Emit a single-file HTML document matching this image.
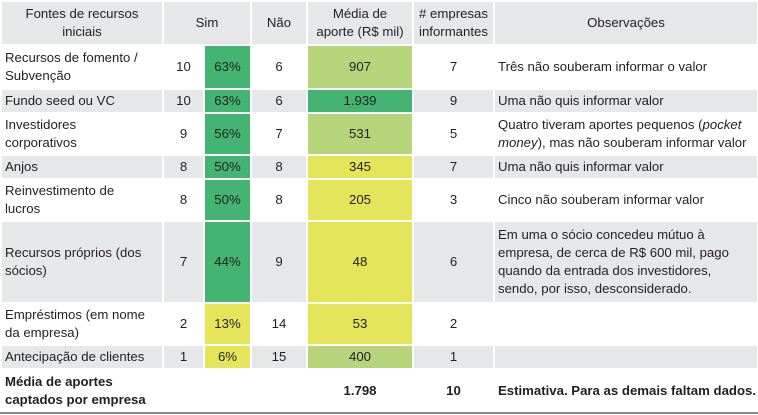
<!DOCTYPE html>
<html><head><meta charset="utf-8">
<style>
html,body{margin:0;padding:0;background:#fff;}
body{width:758px;height:415px;overflow:hidden;font-family:"Liberation Sans",sans-serif;color:#231f20;font-size:13.2px;}
table{border-collapse:collapse;table-layout:fixed;width:757px;position:absolute;left:0;top:0;}
td{border:2px solid #fff;padding:0 3px;line-height:18px;text-align:center;vertical-align:middle;overflow:hidden;white-space:nowrap;}
tr.g td{background:#e6e7e9;}
tr.w td{background:#fff;}
td.l{text-align:left;}
td.G{background:#43b472 !important;}
td.L{background:#b6d479 !important;}
td.Y{background:#e5e55c !important;}
tr.f td{font-weight:bold;}
#bl{position:absolute;left:0;top:412px;width:758px;height:2px;background:#8a8a8a;}
</style></head>
<body>
<table>
<colgroup><col style="width:162px"><col style="width:41px"><col style="width:47px"><col style="width:56px"><col style="width:106px"><col style="width:81px"><col style="width:264px"></colgroup>
<tr class="g" style="height:44px">
<td>Fontes de recursos<br>iniciais</td>
<td colspan="2">Sim</td>
<td>Não</td>
<td>Média de<br>aporte (R$ mil)</td>
<td># empresas<br>informantes</td>
<td>Observações</td>
</tr>
<tr class="w" style="height:44px">
<td class="l">Recursos de fomento /<br>Subvenção</td><td>10</td><td class="G">63%</td><td>6</td><td class="L">907</td><td>7</td><td class="l">Três não souberam informar o valor</td></tr>
<tr class="g" style="height:24px">
<td class="l">Fundo seed ou VC</td><td>10</td><td class="G">63%</td><td>6</td><td class="G">1.939</td><td>9</td><td class="l">Uma não quis informar valor</td></tr>
<tr class="w" style="height:42px">
<td class="l">Investidores<br>corporativos</td><td>9</td><td class="G">56%</td><td>7</td><td class="L">531</td><td>5</td><td class="l">Quatro tiveram aportes pequenos (<i>pocket<br>money</i>), mas não souberam informar valor</td></tr>
<tr class="g" style="height:24px">
<td class="l">Anjos</td><td>8</td><td class="G">50%</td><td>8</td><td class="Y">345</td><td>7</td><td class="l">Uma não quis informar valor</td></tr>
<tr class="w" style="height:42px">
<td class="l">Reinvestimento de<br>lucros</td><td>8</td><td class="G">50%</td><td>8</td><td class="Y">205</td><td>3</td><td class="l">Cinco não souberam informar valor</td></tr>
<tr class="g" style="height:82px">
<td class="l">Recursos próprios (dos<br>sócios)</td><td>7</td><td class="G">44%</td><td>9</td><td class="Y">48</td><td>6</td><td class="l">Em uma o sócio concedeu mútuo à<br>empresa, de cerca de R$ 600 mil, pago<br>quando da entrada dos investidores,<br>sendo, por isso, desconsiderado.</td></tr>
<tr class="w" style="height:42px">
<td class="l">Empréstimos (em nome<br>da empresa)</td><td>2</td><td class="Y">13%</td><td>14</td><td class="Y">53</td><td>2</td><td class="l"></td></tr>
<tr class="g" style="height:24px">
<td class="l">Antecipação de clientes</td><td>1</td><td class="Y">6%</td><td>15</td><td class="L">400</td><td>1</td><td class="l"></td></tr>
<tr class="w f" style="height:44px">
<td class="l">Média de aportes<br>captados por empresa</td><td></td><td></td><td></td><td>1.798</td><td>10</td><td class="l">Estimativa. Para as demais faltam dados.</td></tr>
</table>
<div id="bl"></div>
</body></html>
